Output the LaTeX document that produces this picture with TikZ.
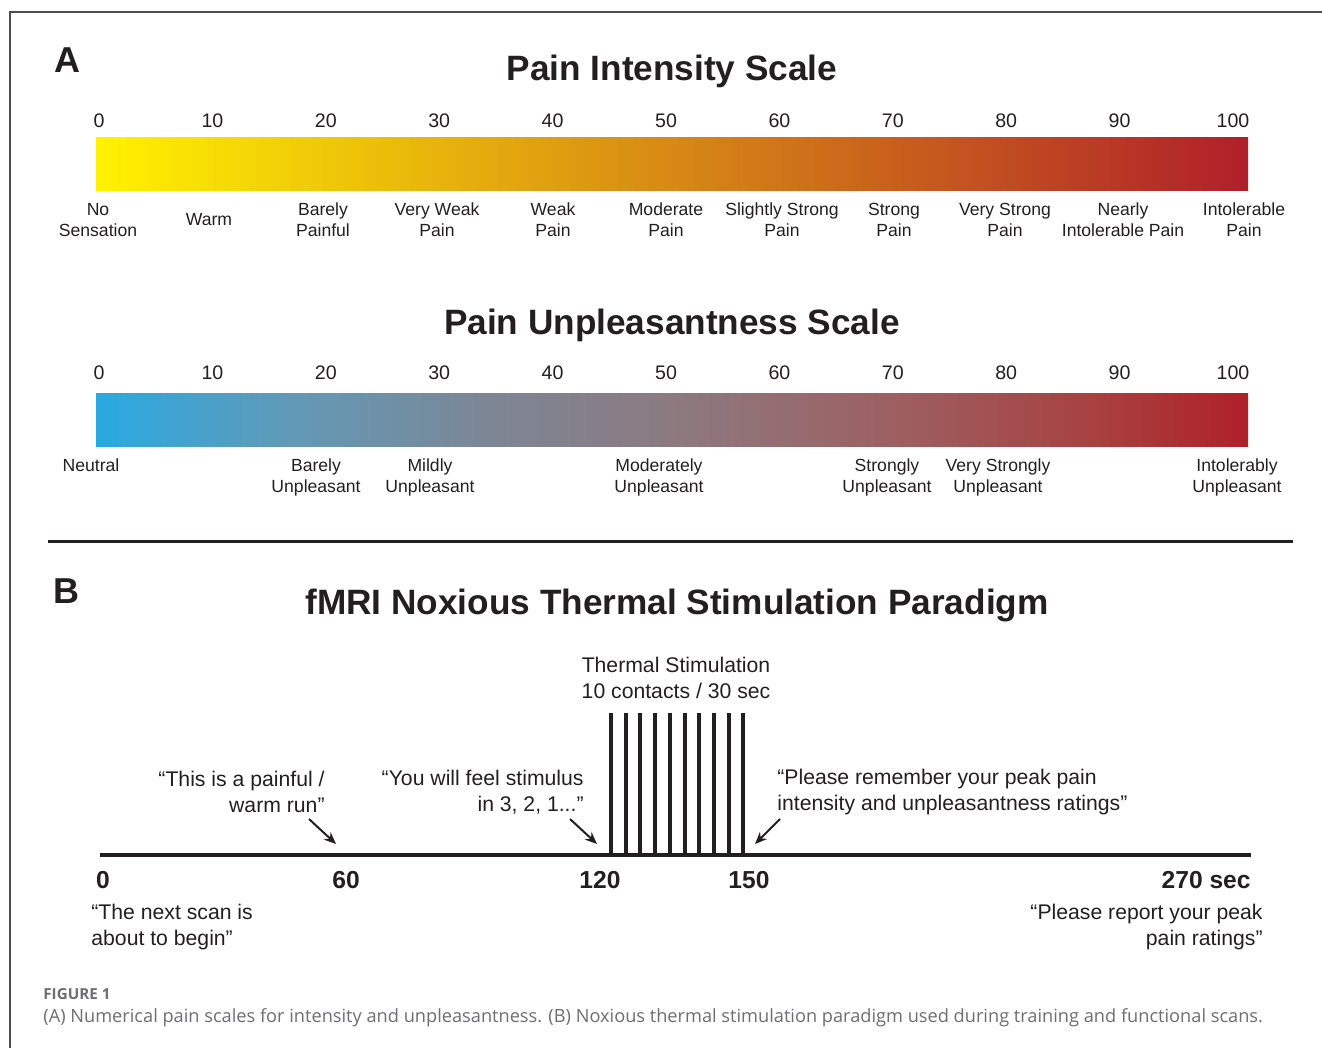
\documentclass[tikz,border=0pt]{standalone}
\usepackage{fontspec}
\setmainfont{Liberation Sans}
\newfontfamily\capfont{Open Sans}
\usetikzlibrary{arrows.meta}
\definecolor{ink}{HTML}{231F20}
\definecolor{capgray}{HTML}{6D6E71}
\definecolor{framegray}{HTML}{4D4D4F}
\definecolor{painyellow}{HTML}{FFF200}
\definecolor{painorange}{HTML}{D3872A}
\definecolor{painred}{HTML}{B01F2A}
\definecolor{calmblue}{HTML}{29A9E2}
\definecolor{calmslate}{HTML}{6399B6}
\definecolor{calmgray}{HTML}{7E8593}
\definecolor{calmmauve}{HTML}{8C7A80}
\definecolor{calmrose}{HTML}{9E5E60}
\definecolor{calmbrick}{HTML}{A8403F}
\pgfdeclarehorizontalshading{unpleasant}{100bp}{color(0bp)=(calmblue); color(25bp)=(calmblue);
  color(33.5bp)=(calmslate); color(42.5bp)=(calmgray); color(50bp)=(calmmauve);
  color(60bp)=(calmrose); color(68.5bp)=(calmbrick); color(75bp)=(painred); color(100bp)=(painred)}
\begin{document}
\begin{tikzpicture}[x=0.5pt,y=-0.5pt,
  panel/.style={inner sep=0pt,text=ink,font={\fontsize{18}{20}\selectfont\bfseries}},
  heading/.style={inner sep=0pt,text=ink,font={\fontsize{17.6}{20}\selectfont\bfseries}},
  numlab/.style={inner sep=0pt,text=ink,font={\fontsize{9.8}{11}\selectfont}},
  scalelab/.style={inner sep=0pt,align=center,text=ink,font={\fontsize{8.8}{10.5}\selectfont}},
  timelab/.style={inner sep=0pt,text=ink,font={\fontsize{12.3}{14}\selectfont\bfseries}},
  quote/.style={inner sep=0pt,text=ink,font={\fontsize{10.6}{13}\selectfont}},
  timeline/.style={line width=2.3pt,ink},
  pulse/.style={line width=2pt,ink},
  cue/.style={line width=1pt,ink,-{Stealth[length=6pt,width=5pt]}}]
\useasboundingbox (0,0) rectangle (1322,1048);
\draw[framegray,line width=0.6pt] (1322,12) -- (10,12) -- (10,1048);

\node[panel] (panA) at (67,60) {A};
\node[heading] (titleA) at (672,71) {Pain Intensity Scale};
\foreach \v in {0,10,...,100}
  \node[numlab] (ia\v) at ({99+11.34*\v},121) {\v};
\shade[left color=painyellow,middle color=painorange,right color=painred] (96,138) rectangle (1248,191);
\foreach \x/\txt [count=\k] in {98/{No\\Sensation},209/{Warm},323/{Barely\\Painful},
    437/{Very Weak\\Pain},553/{Weak\\Pain},666/{Moderate\\Pain},782/{Slightly Strong\\Pain},
    894/{Strong\\Pain},1005/{Very Strong\\Pain},1123/{Nearly\\Intolerable Pain},1244/{Intolerable\\Pain}}
  \node[scalelab] (il\k) at (\x,220) {\txt};

\node[heading] (titleU) at (672,325) {Pain Unpleasantness Scale};
\foreach \v in {0,10,...,100}
  \node[numlab] (ua\v) at ({99+11.34*\v},373) {\v};
\shade[shading=unpleasant] (96,393) rectangle (1248,446);
\node[scalelab,anchor=north] (ul0) at (91,458) {Neutral};
\foreach \x/\txt [count=\k] in {316/{Barely\\Unpleasant},430/{Mildly\\Unpleasant},
    659/{Moderately\\Unpleasant},887/{Strongly\\Unpleasant},998/{Very Strongly\\Unpleasant},
    1237/{Intolerably\\Unpleasant}}
  \node[scalelab] (ul\k) at (\x,477) {\txt};

\draw[line width=1.5pt,ink] (48,541) -- (1293,541);

\node[panel] (panB) at (66,591) {B};
\node[heading] (titleB) at (677,605) {fMRI Noxious Thermal Stimulation Paradigm};

\coordinate (tstart) at (100,855);
\coordinate (tend) at (1251,855);
\draw[timeline] (tstart) -- (tend);
\foreach \k in {0,...,9}
  \draw[pulse] ({611+14.7*\k},856) -- ({611+14.7*\k},713);

\node[quote,align=center] (stim) at (676,678) {Thermal Stimulation\\10 contacts / 30 sec};
\node[quote,align=right,anchor=east] (say60) at (325,792) {“This is a painful /\\warm run”};
\node[quote,align=right,anchor=east] (say120) at (584,792) {“You will feel stimulus\\in 3, 2, 1...”};
\node[quote,align=left,anchor=west] (say150) at (777,792) {“Please remember your peak pain\\intensity and unpleasantness ratings”};
\node[quote,align=left,anchor=west] (say0) at (91,927) {“The next scan is\\about to begin”};
\node[quote,align=right,anchor=east] (say270) at (1263,927) {“Please report your peak\\pain ratings”};

\coordinate (c60a) at (309,819);  \coordinate (c60b) at (336,844);
\coordinate (c120a) at (570,819); \coordinate (c120b) at (597,844);
\coordinate (c150a) at (780,819); \coordinate (c150b) at (755,844);
\draw[cue] (c60a) -- (c60b);
\draw[cue] (c120a) -- (c120b);
\draw[cue] (c150a) -- (c150b);

\node[timelab] (s0) at (103,880) {0};
\node[timelab] (s60) at (346,880) {60};
\node[timelab] (s120) at (600,880) {120};
\node[timelab] (s150) at (749,880) {150};
\node[timelab,anchor=east] (s270) at (1251,880) {270 sec};

\node[inner sep=0pt,anchor=west,text=capgray,font={\capfont\fontsize{7.6}{9}\selectfont\bfseries}] (figno) at (43,994) {FIGURE 1};
\node[inner sep=0pt,anchor=west,text=capgray,font={\capfont\fontsize{9.1}{11}\selectfont}] (caption) at (43,1018) {(A) Numerical pain scales for intensity and unpleasantness. (B) Noxious thermal stimulation paradigm used during training and functional scans.};
\end{tikzpicture}
\end{document}
